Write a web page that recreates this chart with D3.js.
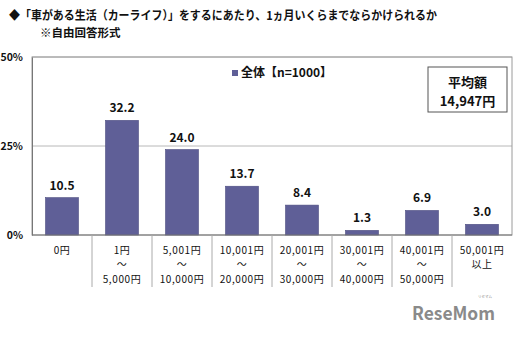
<!DOCTYPE html>
<html>
<head>
<meta charset="utf-8">
<script src="https://cdn.jsdelivr.net/npm/d3@7"></script>
<style>
  html, body { margin: 0; padding: 0; background: #fff; }
  svg { display: block; }
  text { font-family: "Noto Sans CJK JP", "Noto Sans", sans-serif; }
</style>
</head>
<body>
<script>
// Chart data
const categories = ["0円", "1円〜5,000円", "5,001円〜10,000円", "10,001円〜20,000円",
  "20,001円〜30,000円", "30,001円〜40,000円", "40,001円〜50,000円", "50,001円以上"];
const labelLines = [
  ["0円"],
  ["1円", "〜", "5,000円"],
  ["5,001円", "〜", "10,000円"],
  ["10,001円", "〜", "20,000円"],
  ["20,001円", "〜", "30,000円"],
  ["30,001円", "〜", "40,000円"],
  ["40,001円", "〜", "50,000円"],
  ["50,001円", "以上"]
];
const values = [10.5, 32.2, 24.0, 13.7, 8.4, 1.3, 6.9, 3.0];
const yTicks = [0, 25, 50];
const seriesName = "全体【n=1000】";
const titleLine1 = "◆「車がある生活（カーライフ）」をするにあたり、1ヵ月いくらまでならかけられるか";
const titleLine2 = "※自由回答形式";
const averageLines = ["平均額", "14,947円"];

const W = 520, H = 338;
const plot = { left: 32, right: 512, top: 57, bottom: 235 };
const barColor = "#5f5f97";

const svg = d3.select("body").append("svg")
  .attr("width", W).attr("height", H);

// Title
svg.append("text").attr("x", 9).attr("y", 20)
  .attr("font-size", 12).attr("font-weight", "bold").attr("fill", "#111")
  .attr("textLength", 428).attr("lengthAdjust", "spacingAndGlyphs")
  .text(titleLine1);
svg.append("text").attr("x", 40).attr("y", 37)
  .attr("font-size", 11.5).attr("font-weight", "bold").attr("fill", "#111")
  .text(titleLine2);

const x = d3.scaleBand().domain(categories)
  .range([plot.left, plot.right]).paddingInner(0.45).paddingOuter(0.225);
const xCat = d3.scaleBand().domain(categories).range([plot.left, plot.right]);
const y = d3.scaleLinear().domain([0, 50]).range([plot.bottom, plot.top]);

// Gridlines
svg.append("g").selectAll("line").data(yTicks.filter(d => d > 0)).join("line")
  .attr("x1", plot.left).attr("x2", plot.right)
  .attr("y1", d => y(d)).attr("y2", d => y(d))
  .attr("stroke", "#b8b8b8").attr("stroke-width", 1);

// Plot frame
svg.append("rect")
  .attr("x", plot.left).attr("y", plot.top)
  .attr("width", plot.right - plot.left).attr("height", plot.bottom - plot.top)
  .attr("fill", "none").attr("stroke", "#9a9a9a").attr("stroke-width", 1);

// Y axis
const yAxis = d3.axisLeft(y).tickValues(yTicks).tickSize(0).tickPadding(9)
  .tickFormat(d => d + "%");
const gy = svg.append("g").attr("transform", `translate(${plot.left},0)`).call(yAxis);
gy.select(".domain").attr("stroke", "#777");
gy.selectAll("text").attr("font-size", 10.5).attr("font-weight", "bold")
  .attr("fill", "#111").attr("font-family", "Liberation Sans Narrow, Liberation Sans, Arial, sans-serif");

// Bars
svg.append("g").selectAll("rect").data(values).join("rect")
  .attr("x", (d, i) => x(categories[i]))
  .attr("y", d => y(d))
  .attr("width", x.bandwidth())
  .attr("height", d => y(0) - y(d))
  .attr("fill", barColor)
  .attr("stroke", "#4d4d80").attr("stroke-width", 0.6);

// Value labels
svg.append("g").selectAll("text").data(values).join("text")
  .attr("x", (d, i) => x(categories[i]) + x.bandwidth() / 2)
  .attr("y", d => y(d) - 8)
  .attr("text-anchor", "middle")
  .attr("font-size", 12).attr("font-weight", "bold").attr("fill", "#111")
  .attr("font-family", "Liberation Sans, Arial, sans-serif")
  .text(d => d.toFixed(1));

// Baseline
svg.append("line").attr("x1", plot.left).attr("x2", plot.right)
  .attr("y1", plot.bottom).attr("y2", plot.bottom)
  .attr("stroke", "#777");

// Category separators
svg.append("g").selectAll("line").data(categories.slice(1)).join("line")
  .attr("x1", d => xCat(d)).attr("x2", d => xCat(d))
  .attr("y1", plot.bottom).attr("y2", 287)
  .attr("stroke", "#aaa").attr("stroke-width", 1);

// Category labels: one multi-line text per category
const catText = svg.append("g").selectAll("text").data(labelLines).join("text")
  .attr("x", (d, i) => xCat(categories[i]) + xCat.bandwidth() / 2)
  .attr("y", 253.5)
  .attr("text-anchor", "middle")
  .attr("font-size", 10).attr("letter-spacing", 0.6).attr("fill", "#111");
catText.selectAll("tspan").data(d => d).join("tspan")
  .attr("x", function () { return this.parentNode.getAttribute("x"); })
  .attr("dy", (d, j) => j === 0 ? 0 : 14.6)
  .text(d => d);

// Legend
svg.append("rect").attr("x", 232).attr("y", 70).attr("width", 6).attr("height", 6)
  .attr("fill", barColor);
svg.append("text").attr("x", 241).attr("y", 77)
  .attr("font-size", 12).attr("font-weight", "bold").attr("fill", "#111")
  .text(seriesName);

// Average box
svg.append("rect").attr("x", 428).attr("y", 67).attr("width", 79).attr("height", 45)
  .attr("fill", "#fff").attr("stroke", "#555").attr("stroke-width", 1);
svg.append("text").attr("x", 467.5).attr("y", 87)
  .attr("text-anchor", "middle")
  .attr("font-size", 13).attr("font-weight", "bold").attr("fill", "#111")
  .selectAll("tspan").data(averageLines).join("tspan")
  .attr("x", 467.5).attr("dy", (d, i) => i === 0 ? 0 : 19)
  .text(d => d);

// Site mark
svg.append("text").attr("x", 412).attr("y", 320)
  .attr("font-size", 18).attr("font-weight", "bold").attr("fill", "#8a8a8a")
  .attr("font-family", "Liberation Sans, Arial, sans-serif")
  .attr("textLength", 83).attr("lengthAdjust", "spacingAndGlyphs")
  .text("ReseMom");
svg.append("text").attr("x", 478).attr("y", 298)
  .attr("font-size", 3.5).attr("fill", "#8a8a8a")
  .text("リセマム");
</script>
</body>
</html>
